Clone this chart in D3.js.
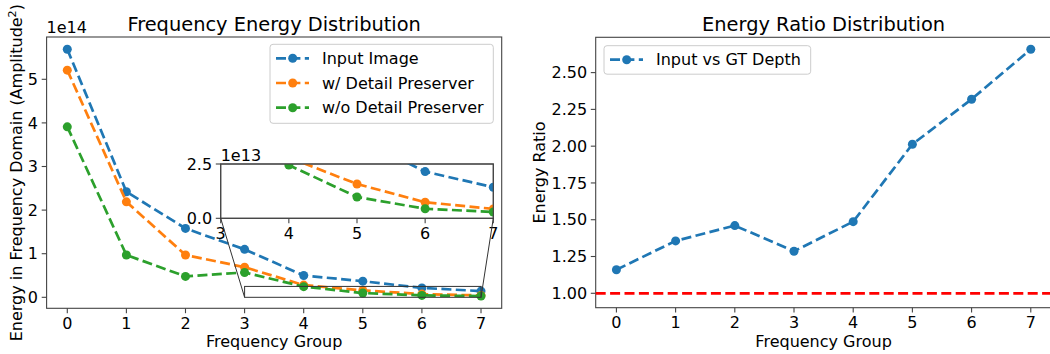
<!DOCTYPE html>
<html>
<head>
<meta charset="utf-8">
<script src="https://cdn.jsdelivr.net/npm/d3@7"></script>
<style>
body { margin: 0; background: #fff; }
svg { display: block; font-family: "DejaVu Sans", sans-serif; }
</style>
</head>
<body>
<div id="chart"></div>
<script>
(function(){
	// data
	var groups = [0, 1, 2, 3, 4, 5, 6, 7];
	var inputImage = [5.69e14, 2.42e14, 1.58e14, 1.10e14, 0.50e14, 0.37e14, 0.215e14, 0.143e14];
	var withDP = [5.21e14, 2.19e14, 0.97e14, 0.69e14, 0.28e14, 0.158e14, 0.074e14, 0.043e14];
	var withoutDP = [3.91e14, 0.97e14, 0.48e14, 0.57e14, 0.245e14, 0.098e14, 0.044e14, 0.029e14];
	var ratio = [1.160, 1.356, 1.460, 1.286, 1.487, 2.013, 2.319, 2.659];
	var energyTicks = [0, 1e14, 2e14, 3e14, 4e14, 5e14];
	var insetXTicks = [3, 4, 5, 6, 7];
	var insetYTicks = [0, 2.5e13];
	var ratioTicks = [1.00, 1.25, 1.50, 1.75, 2.00, 2.25, 2.50];
	var seriesNames = ["Input Image", "w/ Detail Preserver", "w/o Detail Preserver"];
	var colors = ["#1f77b4", "#ff7f0e", "#2ca02c"];

	var W = 1050, H = 354;
	var FS = 16, SPINE = "#444", DASH = "10,4.4", LW = 2.7, R = 4.5;

	var svg = d3.select("#chart").append("svg")
		.attr("width", W).attr("height", H);

	// scales
	var x1 = d3.scaleLinear().domain([-0.35, 7.35]).range([46.6, 501.7]);
	var y1 = d3.scaleLinear().domain([-0.252e14, 5.97e14]).range([308.3, 37]);
	var xi = d3.scaleLinear().domain([3, 7]).range([220.7, 493.3]);
	var yi = d3.scaleLinear().domain([0, 2.5e13]).range([218.3, 164]);
	var x2 = d3.scaleLinear().domain([-0.35, 7.35]).range([595.7, 1051.5]);
	var y2 = d3.scaleLinear().domain([0.902, 2.740]).range([307.7, 37.3]);

	function box(g, x, y, fill){
		g.append("rect")
			.attr("x", x.range()[0]).attr("y", y.range()[1])
			.attr("width", x.range()[1] - x.range()[0])
			.attr("height", y.range()[0] - y.range()[1])
			.attr("fill", fill).attr("stroke", SPINE).attr("stroke-width", 1.1);
	}

	function xTicks(g, x, y, ticks){
		var b = y.range()[0];
		ticks.forEach(function(t){
			g.append("line").attr("x1", x(t)).attr("x2", x(t))
				.attr("y1", b).attr("y2", b + 4.9)
				.attr("stroke", SPINE).attr("stroke-width", 1.1);
			g.append("text").attr("x", x(t)).attr("y", b + 20.2)
				.attr("text-anchor", "middle").attr("font-size", FS)
				.text(t);
		});
	}

	function yTicks(g, x, y, ticks, fmt){
		var l = x.range()[0];
		ticks.forEach(function(t){
			g.append("line").attr("x1", l - 4.9).attr("x2", l)
				.attr("y1", y(t)).attr("y2", y(t))
				.attr("stroke", SPINE).attr("stroke-width", 1.1);
			g.append("text").attr("x", l - 8.6).attr("y", y(t))
				.attr("dy", "0.36em")
				.attr("text-anchor", "end").attr("font-size", FS)
				.text(fmt(t));
		});
	}

	function series(g, x, y, vals, color, clip){
		var s = g.append("g");
		if (clip) s.attr("clip-path", "url(#" + clip + ")");
		var line = d3.line()
			.x(function(d, i){ return x(groups[i]); })
			.y(function(d){ return y(d); });
		s.append("path").datum(vals)
			.attr("d", line)
			.attr("fill", "none").attr("stroke", color)
			.attr("stroke-width", LW).attr("stroke-dasharray", DASH);
		s.selectAll("circle").data(vals).enter().append("circle")
			.attr("cx", function(d, i){ return x(groups[i]); })
			.attr("cy", function(d){ return y(d); })
			.attr("r", R).attr("fill", color);
	}

	function legend(g, x0, y0, w, h, rows){
		g.append("rect").attr("x", x0).attr("y", y0)
			.attr("width", w).attr("height", h).attr("rx", 3)
			.attr("fill", "#fff").attr("fill-opacity", 0.8)
			.attr("stroke", "#ccc").attr("stroke-width", 1);
		rows.forEach(function(r, i){
			var cy = y0 + 14 + i * 24.7;
			g.append("line").attr("x1", x0 + 6).attr("x2", x0 + 39)
				.attr("y1", cy).attr("y2", cy)
				.attr("stroke", r.color).attr("stroke-width", LW)
				.attr("stroke-dasharray", DASH);
			g.append("circle").attr("cx", x0 + 22.7).attr("cy", cy)
				.attr("r", R).attr("fill", r.color);
			g.append("text").attr("x", x0 + 52).attr("y", cy).attr("dy", "0.36em")
				.attr("font-size", FS).text(r.name);
		});
	}

	// ---- left panel ----
	var left = svg.append("g");
	box(left, x1, y1, "#fff");
	xTicks(left, x1, y1, groups);
	yTicks(left, x1, y1, energyTicks, function(t){ return d3.format("d")(t / 1e14); });
	left.append("text").attr("x", 46.6).attr("y", 33.3)
		.attr("font-size", FS).text("1e14");
	left.append("text").attr("x", (46.6 + 501.7) / 2).attr("y", 31.3)
		.attr("text-anchor", "middle").attr("font-size", 19.4)
		.text("Frequency Energy Distribution");
	left.append("text").attr("x", (46.6 + 501.7) / 2).attr("y", 346.5)
		.attr("text-anchor", "middle").attr("font-size", FS)
		.text("Frequency Group");
	var yl = left.append("text")
		.attr("transform", "translate(22," + ((37 + 308.3) / 2) + ") rotate(-90)")
		.attr("text-anchor", "middle").attr("font-size", FS);
	yl.append("tspan").text("Energy in Frequency Domain (Amplitude");
	yl.append("tspan").attr("font-size", 11.2).attr("dy", -6.5).text("2");
	yl.append("tspan").attr("dy", 6.5).text(")");

	[inputImage, withDP, withoutDP].forEach(function(v, i){
		series(left, x1, y1, v, colors[i]);
	});

	// zoomed region marker
	left.append("rect")
		.attr("x", x1(3)).attr("y", y1(2.5e13))
		.attr("width", x1(7) - x1(3)).attr("height", y1(0) - y1(2.5e13))
		.attr("fill", "none").attr("stroke", "#333").attr("stroke-width", 1);

	legend(left, 270, 44.3, 223.3, 79, seriesNames.map(function(n, i){
		return {name: n, color: colors[i]};
	}));

	// ---- inset ----
	svg.append("defs").append("clipPath").attr("id", "insetClip")
		.append("rect")
		.attr("x", xi.range()[0]).attr("y", yi.range()[1])
		.attr("width", xi.range()[1] - xi.range()[0])
		.attr("height", yi.range()[0] - yi.range()[1]);
	var inset = svg.append("g");
	box(inset, xi, yi, "#fff");
	[inputImage, withDP, withoutDP].forEach(function(v, i){
		series(inset, xi, yi, v, colors[i], "insetClip");
	});
	box(inset, xi, yi, "none");
	xTicks(inset, xi, yi, insetXTicks);
	yTicks(inset, xi, yi, insetYTicks, function(t){ return d3.format(".1f")(t / 1e13); });
	inset.append("text").attr("x", xi.range()[0]).attr("y", 161)
		.attr("font-size", FS).text("1e13");

	// connector lines, above the inset
	var conn = svg.append("g");
	[3, 7].forEach(function(t){
		conn.append("line").attr("x1", x1(t)).attr("y1", y1(0))
			.attr("x2", xi(t)).attr("y2", yi(0))
			.attr("stroke", "#333").attr("stroke-width", 1);
	});

	// ---- right panel ----
	var right = svg.append("g");
	box(right, x2, y2, "#fff");
	xTicks(right, x2, y2, groups);
	yTicks(right, x2, y2, ratioTicks, d3.format(".2f"));
	right.append("line")
		.attr("x1", x2.range()[0]).attr("x2", x2.range()[1])
		.attr("y1", y2(1)).attr("y2", y2(1))
		.attr("stroke", "red").attr("stroke-width", LW)
		.attr("stroke-dasharray", DASH);
	series(right, x2, y2, ratio, colors[0]);
	right.append("text").attr("x", (x2.range()[0] + x2.range()[1]) / 2).attr("y", 31.3)
		.attr("text-anchor", "middle").attr("font-size", 19.4)
		.text("Energy Ratio Distribution");
	right.append("text").attr("x", (x2.range()[0] + x2.range()[1]) / 2).attr("y", 346.5)
		.attr("text-anchor", "middle").attr("font-size", FS)
		.text("Frequency Group");
	right.append("text")
		.attr("transform", "translate(545," + ((37.3 + 307.7) / 2) + ") rotate(-90)")
		.attr("text-anchor", "middle").attr("font-size", FS)
		.text("Energy Ratio");
	legend(right, 604, 45.7, 206.7, 28.5, [{name: "Input vs GT Depth", color: colors[0]}]);
})();
</script>
</body>
</html>
